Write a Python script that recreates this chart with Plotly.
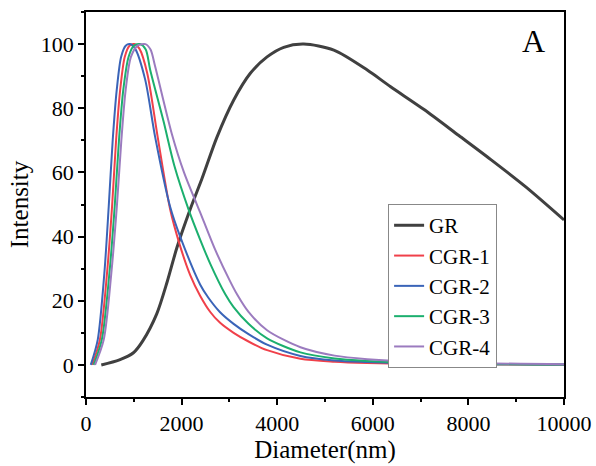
import plotly.graph_objects as go

# ---- data ----
gr_x = [320, 700, 992, 1188, 1482, 1700, 1901, 2180, 2425, 2740, 3088, 3438, 3788, 4136, 4556, 5185, 5884, 6373, 7072, 7800, 8470, 9200, 10000]
gr_y = [0, 1.6, 3.8, 7.5, 16, 26, 36.5, 48.5, 58, 71, 82.5, 90.9, 96, 99, 100, 98.1, 91.9, 86.7, 79.6, 71.5, 64, 55.5, 45.2]

cgr1_x = [130, 290, 440, 545, 630, 715, 810, 910, 1010, 1120, 1280, 1500, 1760, 1960, 2180, 2390, 2600, 2800, 3088, 3400, 3788, 4486, 5200, 5884, 7000, 10000]
cgr1_y = [0, 7.8, 28.6, 49.3, 70.1, 85.7, 96, 99.5, 100, 98.5, 91, 71, 48.5, 37.5, 28, 21.5, 16.5, 13.2, 10, 7.3, 4.6, 1.9, 1.0, 0.6, 0.3, 0.05]

cgr2_x = [100, 245, 384, 475, 559, 643, 734, 830, 920, 1030, 1237, 1447, 1760, 1970, 2390, 2557, 2800, 3088, 3400, 3788, 4486, 5200, 5884, 7000, 10000]
cgr2_y = [0, 7.8, 28.6, 49.3, 70.1, 85.7, 96, 99.5, 100, 98.5, 89, 71, 49.3, 40, 25, 21, 16.5, 12.8, 9.6, 6.3, 2.8, 1.4, 0.9, 0.4, 0.1]

cgr3_x = [160, 330, 490, 600, 690, 780, 890, 1000, 1130, 1250, 1342, 1621, 1850, 2145, 2390, 2600, 2914, 3088, 3400, 3788, 4486, 5200, 5884, 7000, 10000]
cgr3_y = [0, 7.8, 28.6, 49.3, 70.1, 85.7, 96, 99.5, 100, 98.3, 92, 76, 62, 48.5, 39, 31.5, 22, 18, 12.8, 8.3, 3.9, 2.0, 1.2, 0.5, 0.1]

cgr4_x = [190, 370, 530, 645, 740, 830, 940, 1080, 1243, 1350, 1447, 1796, 2050, 2306, 2390, 2700, 3000, 3159, 3400, 3788, 4486, 5200, 5884, 7000, 10000]
cgr4_y = [0, 7.8, 28.6, 49.3, 70.1, 85.7, 96, 99.5, 100, 98.3, 93, 72, 60, 50.5, 47.5, 36, 26.5, 22, 16.5, 10.8, 5.5, 2.9, 1.8, 0.9, 0.2]

names = ["GR", "CGR-1", "CGR-2", "CGR-3", "CGR-4"]
colors = ["#404040", "#F0404A", "#3A64B8", "#1BAF6E", "#9B7BBF"]
widths = [3, 2, 2, 2, 2]

x_ticks = [0, 2000, 4000, 6000, 8000, 10000]
x_tick_text = ["0", "2000", "4000", "6000", "8000", "10000"]
y_ticks = [0, 20, 40, 60, 80, 100]
y_tick_text = ["0", "20", "40", "60", "80", "100"]

series = [(gr_x, gr_y), (cgr1_x, cgr1_y), (cgr2_x, cgr2_y), (cgr3_x, cgr3_y), (cgr4_x, cgr4_y)]

fig = go.Figure()
for (xs, ys), n, c, w in zip(series, names, colors, widths):
    fig.add_trace(go.Scatter(x=xs, y=ys, name=n, mode="lines",
                             line=dict(color=c, width=w, shape="spline", smoothing=0.8)))

ff = "Liberation Serif"
fig.update_layout(
    width=596, height=466,
    margin=dict(l=86, r=32, t=12, b=69, autoexpand=False),
    paper_bgcolor="white", plot_bgcolor="white",
    font=dict(family=ff, size=22, color="black"),
    showlegend=True,
    legend=dict(x=0.632, y=0.501, xanchor="left", yanchor="top",
                bordercolor="#888888", borderwidth=1, bgcolor="white",
                font=dict(family=ff, size=21, color="black"), tracegroupgap=0),
    annotations=[dict(text="A", x=0.937, y=0.925, xref="paper", yref="paper",
                      showarrow=False, font=dict(size=32, family=ff, color="black"),
                      xanchor="center", yanchor="middle")],
)
fig.update_xaxes(range=[0, 10000], tickvals=x_ticks, ticktext=x_tick_text, ticks="outside", ticklen=6, tickwidth=1.5,
                 tickcolor="black", automargin=False,
                 showline=True, linecolor="black", linewidth=1.5, mirror=True, showgrid=False,
                 zeroline=False, tickfont=dict(family=ff, size=22, color="black"),
                 minor=dict(dtick=1000, ticks="outside", ticklen=3, tickwidth=1.5, tickcolor="black"),
                 title=dict(text="Diameter(nm)", font=dict(family=ff, size=25, color="black"), standoff=4))
fig.update_yaxes(range=[-10, 110], tickvals=y_ticks, ticktext=y_tick_text, ticks="outside", ticklen=6, tickwidth=1.5,
                 tickcolor="black", automargin=False,
                 showline=True, linecolor="black", linewidth=1.5, mirror=True, showgrid=False,
                 zeroline=False, tickfont=dict(family=ff, size=22, color="black"),
                 minor=dict(dtick=10, ticks="outside", ticklen=3, tickwidth=1.5, tickcolor="black"),
                 title=dict(text="Intensity", font=dict(family=ff, size=25, color="black"), standoff=5))

fig.write_html("out.html", config={"displayModeBar": False},
               post_script="document.body.style.margin='0';document.body.style.padding='0';")
